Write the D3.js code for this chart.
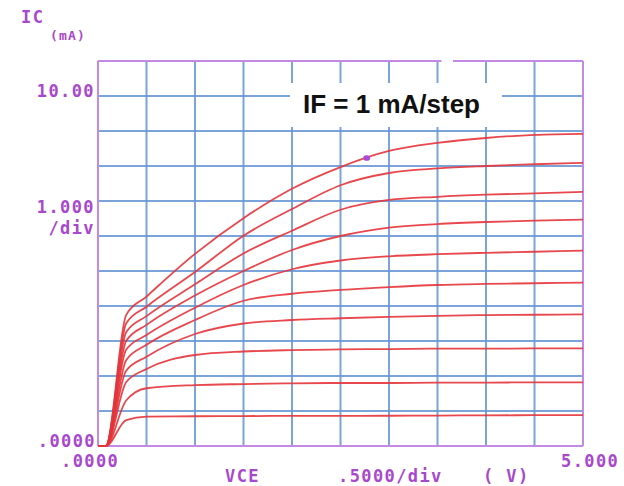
<!DOCTYPE html>
<html>
<head>
<meta charset="utf-8">
<script src="https://cdn.jsdelivr.net/npm/d3@7"></script>
<style>
  html, body { margin: 0; padding: 0; background: #ffffff; }
  svg { display: block; }
</style>
</head>
<body>
<svg id="chart" width="624" height="486"></svg>
<script>
// ---- data ----
const vce = [0, 0.08, 0.29, 0.5, 1.0, 1.5, 2.0, 2.5, 3.0, 3.5, 4.0, 4.5, 5.0];
const stepLabels = ["1 mA", "2 mA", "3 mA", "4 mA", "5 mA", "6 mA", "7 mA", "8 mA", "9 mA", "10 mA"];
const ic1  = [0, 0, 0.74, 0.84, 0.85, 0.855, 0.86, 0.86, 0.865, 0.87, 0.875, 0.88, 0.88];
const ic2  = [0, 0, 1.30, 1.65, 1.74, 1.77, 1.79, 1.80, 1.80, 1.81, 1.81, 1.82, 1.82];
const ic3  = [0, 0, 1.82, 2.20, 2.60, 2.70, 2.74, 2.76, 2.77, 2.78, 2.78, 2.79, 2.79];
const ic4  = [0, 0, 2.15, 2.55, 3.20, 3.50, 3.60, 3.65, 3.69, 3.72, 3.74, 3.75, 3.76];
const ic5  = [0, 0, 2.45, 2.89, 3.60, 4.15, 4.35, 4.46, 4.54, 4.60, 4.63, 4.65, 4.67];
const ic6  = [0, 0, 2.75, 3.17, 3.95, 4.60, 5.05, 5.30, 5.42, 5.48, 5.52, 5.55, 5.58];
const ic7  = [0, 0, 3.00, 3.46, 4.30, 5.00, 5.60, 6.00, 6.24, 6.34, 6.40, 6.44, 6.47];
const ic8  = [0, 0, 3.25, 3.71, 4.62, 5.50, 6.15, 6.75, 7.03, 7.12, 7.18, 7.22, 7.26];
const ic9  = [0, 0, 3.50, 3.98, 4.97, 6.01, 6.77, 7.45, 7.80, 7.93, 8.00, 8.05, 8.09];
const ic10 = [0, 0, 3.74, 4.27, 5.49, 6.51, 7.35, 7.97, 8.43, 8.66, 8.80, 8.89, 8.92];
const icSeries = [ic1, ic2, ic3, ic4, ic5, ic6, ic7, ic8, ic9, ic10];
const cursor = { v: 2.77, i: 8.23 };
const xTicks = [0, 0.5, 1, 1.5, 2, 2.5, 3, 3.5, 4, 4.5, 5];
const yTicks = [0, 1, 2, 3, 4, 5, 6, 7, 8, 9, 10, 11];

// ---- layout ----
const svg = d3.select("#chart");
const x = d3.scaleLinear().domain([0, 5]).range([98, 583]);
const y = d3.scaleLinear().domain([0, 11]).range([446, 61]);

const purple = "#c489e4";
const labelColor = "#a848cc";
const blue = "#6496d4";
const red = "#e4343a";

// grid
const grid = svg.append("g");
grid.selectAll("line.v").data(xTicks.slice(1, -1)).join("line")
  .attr("x1", d => x(d)).attr("x2", d => x(d))
  .attr("y1", y(11)).attr("y2", y(0))
  .attr("stroke", blue).attr("stroke-width", 2).attr("opacity", 0.85);
grid.selectAll("line.h").data(yTicks.slice(1, -1)).join("line")
  .attr("y1", d => y(d)).attr("y2", d => y(d))
  .attr("x1", x(0)).attr("x2", x(5))
  .attr("stroke", blue).attr("stroke-width", 2).attr("opacity", 0.85);

// border
const border = svg.append("g").attr("stroke", purple).attr("stroke-width", 2).attr("fill", "none");
border.append("line").attr("x1", x(0)).attr("x2", x(0)).attr("y1", y(11)).attr("y2", y(0));
border.append("line").attr("x1", x(5)).attr("x2", x(5)).attr("y1", y(11)).attr("y2", y(0));
border.append("line").attr("x1", x(0)).attr("x2", x(5)).attr("y1", y(0)).attr("y2", y(0));
border.append("line").attr("x1", x(0)).attr("x2", x(3.54)).attr("y1", y(11)).attr("y2", y(11));
border.append("line").attr("x1", x(3.66)).attr("x2", x(5)).attr("y1", y(11)).attr("y2", y(11));

// annotation box
svg.append("rect").attr("x", 290).attr("y", 83).attr("width", 212).attr("height", 44).attr("fill", "#ffffff");
svg.append("text").attr("x", 303).attr("y", 113)
  .attr("font-family", "'Liberation Sans', Arial, sans-serif").attr("font-weight", "bold")
  .attr("font-size", 26).attr("fill", "#111").text("IF = 1 mA/step");

// curves
const line = d3.line()
  .x((d, i) => x(vce[i]))
  .y(d => y(d))
  .curve(d3.curveMonotoneX);
svg.append("g").selectAll("path").data(icSeries).join("path")
  .attr("d", d => line(d))
  .attr("fill", "none").attr("stroke", red).attr("stroke-width", 1.8).attr("opacity", 0.9);

// cursor marker
svg.append("ellipse").attr("cx", x(cursor.v)).attr("cy", y(cursor.i))
  .attr("rx", 3.5).attr("ry", 2.8).attr("fill", "#a94bd6");

// labels
const mono = "'DejaVu Sans Mono', monospace";
function label(t, xx, yy, size, anchor, ls) {
  svg.append("text").attr("x", xx).attr("y", yy).attr("font-family", mono)
    .attr("font-weight", "bold")
    .attr("font-size", size).attr("fill", labelColor).attr("text-anchor", anchor || "start")
    .attr("letter-spacing", ls == null ? 1.4 : ls).text(t);
}
label("IC", 21, 23, 17);
label("(mA)", 50, 40, 13, "start", 1.2);
label("10.00", 95, 97, 17, "end");
label("1.000", 95, 213, 17, "end");
label("/div", 95, 234, 17, "end");
label(".0000", 96, 447, 17, "end");
label(".0000", 61, 467, 17);
label("VCE", 225, 482, 17);
label(".5000/div", 338, 482, 17);
label("( V)", 483, 482, 17);
label("5.000", 561, 467, 17);
</script>
</body>
</html>
